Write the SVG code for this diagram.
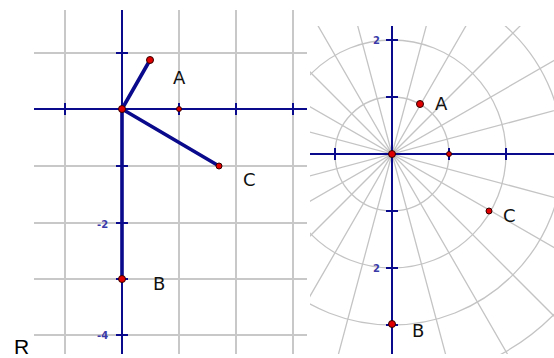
<svg xmlns="http://www.w3.org/2000/svg" width="554" height="358" viewBox="0 0 554 358">
<style>
.grid{stroke:#c8c8c8;stroke-width:2;fill:none}
.pgrid{stroke:#c4c4c4;stroke-width:1.3;fill:none}
.axis{stroke:#0a0a8c;stroke-width:2;fill:none}
.seg{stroke:#0a0a8c;stroke-width:3.6;fill:none;stroke-linecap:round}
.pt{fill:#e00000;stroke:#300000;stroke-width:1}
.lbl{font-family:"DejaVu Sans",Verdana,sans-serif;font-size:18px;fill:#111}
.tk{font-family:"DejaVu Sans",Verdana,sans-serif;font-size:10px;font-weight:bold;fill:#3a3aa8}
</style>
<defs>
<clipPath id="cl"><rect x="34" y="10" width="273" height="344"/></clipPath>
<clipPath id="cr"><rect x="310" y="26" width="244" height="328"/></clipPath>
</defs>
<rect width="554" height="358" fill="#fff"/>

<g id="left-grid" clip-path="url(#cl)">
<path class="grid" d="M65 10V354M179 10V354M236 10V354M293 10V354M34 53H307M34 166H307M34 223H307M34 279H307M34 335H307"/>
<path class="axis" d="M34 109H307M122 10V354"/>
<path class="axis" d="M65 103V115M179 103V115M236 103V115M293 103V115M116 53H128M116 166H128M116 223H128M116 279H128M116 335H128"/>
</g>
<text class="tk" x="97" y="228">-2</text>
<text class="tk" x="97" y="339">-4</text>

<g id="right-grid" clip-path="url(#cr)">
<rect x="310" y="26" width="244" height="328" fill="#fff"/>
<g class="pgrid">
<circle cx="392" cy="154" r="57"/>
<circle cx="392" cy="154" r="114"/>
<circle cx="392" cy="154" r="171"/>
<circle cx="392" cy="154" r="228"/>
<path d="M92 154H692M392 -146V454
M102 76.4L682 231.6M102 231.6L682 76.4
M132 4L652 304M132 304L652 4
M180 -58L604 366M180 366L604 -58
M242 -106L542 414M242 414L542 -106
M314.4 -136L469.6 444M314.4 444L469.6 -136"/>
</g>
<path class="axis" d="M310 154H554M392 26V354"/>
<path class="axis" d="M335 148V160M449 148V160M506 148V160M386 40H398M386 97H398M386 211H398M386 268H398M386 325H398"/>
</g>
<text class="tk" x="373" y="44" font-size="12">2</text>
<text class="tk" x="373" y="272" font-size="12">2</text>

<g id="connectors">
<path class="seg" d="M122 109L150 60M122 109L219 166M122 109V279"/>
</g>

<g id="left-origin"><circle class="pt" cx="122" cy="109" r="3.5"/></g>
<g id="left-unit"><circle class="pt" cx="179" cy="109" r="2.5"/></g>
<g id="left-A"><circle class="pt" cx="150" cy="60" r="3.5"/><text class="lbl" x="173" y="84">A</text></g>
<g id="left-C"><circle class="pt" cx="219" cy="166" r="3"/><text class="lbl" x="243" y="186">C</text></g>
<g id="left-B"><circle class="pt" cx="122" cy="279" r="3.5"/><text class="lbl" x="153" y="290">B</text></g>

<g id="right-origin"><circle class="pt" cx="392" cy="154" r="3.5"/></g>
<g id="right-unit"><circle class="pt" cx="449" cy="154" r="2.5"/></g>
<g id="right-A"><circle class="pt" cx="420" cy="104" r="3.5"/><text class="lbl" x="435" y="110">A</text></g>
<g id="right-C"><circle class="pt" cx="489" cy="211" r="3"/><text class="lbl" x="503" y="222">C</text></g>
<g id="right-B"><circle class="pt" cx="392" cy="324" r="3.5"/><text class="lbl" x="412" y="337">B</text></g>

<text x="14" y="354" font-family="'Liberation Sans',Arial,sans-serif" font-size="21" fill="#000">R</text>
</svg>
